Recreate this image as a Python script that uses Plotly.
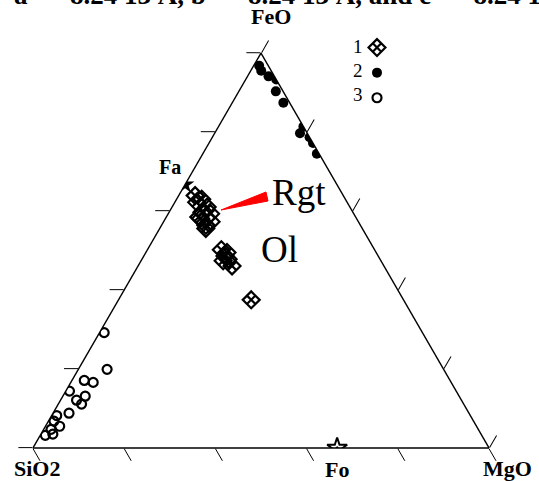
import plotly.graph_objects as go

# ---- data (molar fractions: FeO, SiO2, MgO) ----
# Series 1: diamonds (Fa-rich olivine / Rgt, Ol)
s1_feo = [0.639, 0.630, 0.622, 0.610, 0.597, 0.593, 0.585, 0.581, 0.573, 0.564, 0.556,
          0.502, 0.486, 0.478, 0.461, 0.474, 0.495, 0.375]
s1_sio2 = [0.325, 0.315, 0.330, 0.313, 0.331, 0.314, 0.344, 0.342, 0.323, 0.339, 0.343,
           0.336, 0.336, 0.333, 0.333, 0.346, 0.327, 0.334]
s1_mgo = [0.036, 0.055, 0.048, 0.077, 0.072, 0.093, 0.071, 0.077, 0.104, 0.097, 0.101,
          0.162, 0.178, 0.189, 0.206, 0.180, 0.178, 0.291]

# Series 2: filled circles (near FeO apex)
s2_feo = [0.968, 0.955, 0.941, 0.933, 0.903, 0.874, 0.814, 0.797, 0.787, 0.772, 0.745]
s2_sio2 = [0.020, 0.022, 0.013, 0.000, 0.016, 0.014, 0.000, 0.016, 0.000, 0.000, 0.005]
s2_mgo = [0.012, 0.023, 0.046, 0.067, 0.081, 0.112, 0.186, 0.187, 0.213, 0.228, 0.250]

# Series 3: open circles (near SiO2 corner)
s3_feo = [0.292, 0.199, 0.171, 0.166, 0.144, 0.131, 0.121, 0.111, 0.088, 0.082, 0.068,
          0.055, 0.047, 0.035, 0.032]
s3_sio2 = [0.698, 0.738, 0.802, 0.785, 0.848, 0.820, 0.844, 0.838, 0.877, 0.907, 0.920,
           0.914, 0.937, 0.939, 0.957]
s3_mgo = [0.010, 0.063, 0.027, 0.049, 0.008, 0.049, 0.035, 0.051, 0.035, 0.011, 0.012,
          0.031, 0.016, 0.026, 0.011]

# End members
fa_pt = [0.667, 0.333, 0.0]   # Fayalite  FeO, SiO2, MgO
fo_pt = [0.0, 0.333, 0.667]   # Forsterite

legend_labels = ["1", "2", "3"]

W, H = 539, 481
FONT = "Liberation Serif"
NB = "\u00a0"


def px(x):
    """window pixel x -> paper x"""
    return x / W


def py(y):
    """window pixel y -> paper y"""
    return (H - y) / H


fig = go.Figure()

fig.add_trace(go.Scatterternary(
    a=s1_feo, b=s1_sio2, c=s1_mgo, mode="markers", name=" ",
    marker=dict(symbol="diamond-x-open", size=13, color="black", line=dict(width=2.2, color="black")),
))
fig.add_trace(go.Scatterternary(
    a=s2_feo, b=s2_sio2, c=s2_mgo, mode="markers", name=" ",
    marker=dict(symbol="circle", size=10, color="black"),
))
fig.add_trace(go.Scatterternary(
    a=s3_feo, b=s3_sio2, c=s3_mgo, mode="markers", name=" ",
    marker=dict(symbol="circle-open", size=9, color="black", line=dict(width=2.2, color="black")),
))
fig.add_trace(go.Scatterternary(
    a=[fa_pt[0]], b=[fa_pt[1]], c=[fa_pt[2]], mode="markers", showlegend=False,
    marker=dict(symbol="star", size=14, color="black"),
))
fig.add_trace(go.Scatterternary(
    a=[fo_pt[0]], b=[fo_pt[1]], c=[fo_pt[2]], mode="markers", showlegend=False,
    marker=dict(symbol="star-open-dot", size=15, color="black", line=dict(width=2, color="black")),
))

axis = dict(showgrid=False, showticklabels=False, ticks="outside", ticklen=14,
            tickwidth=1.3, tickcolor="black", linecolor="black", linewidth=1.4,
            showline=True, dtick=0.2, tick0=0, min=0, title=dict(text=""))

fig.update_layout(
    width=W, height=H,
    margin=dict(l=0, r=0, t=0, b=0),
    paper_bgcolor="white",
    ternary=dict(
        domain=dict(x=[px(33), px(489)], y=[py(448), py(53)]),
        bgcolor="white", sum=1,
        aaxis=axis, baxis=axis, caxis=axis,
    ),
    showlegend=True,
    legend=dict(x=px(357), y=py(30), xanchor="left", yanchor="top",
                font=dict(family=FONT, size=17, color="black"),
                bgcolor="rgba(0,0,0,0)", itemwidth=30, tracegroupgap=0),
    font=dict(family=FONT, color="black"),
)

eq = NB + NB + "=" + NB + NB
title_txt = f"a{eq}8.24 13 Å, b{eq}8.24 13 Å, and c{eq}8.24 13 Å"

annos = [
    dict(text=title_txt, x=px(12), y=py(-5),
         xanchor="left", yanchor="middle", font=dict(size=27, family=FONT), bold=True),
    dict(text="<b>FeO</b>", x=px(271), y=py(17), font=dict(size=22)),
    dict(text="<b>SiO2</b>", x=px(37), y=py(468), font=dict(size=22)),
    dict(text="<b>MgO</b>", x=px(507), y=py(468), font=dict(size=22)),
    dict(text="<b>Fo</b>", x=px(337), y=py(469), font=dict(size=22)),
    dict(text="<b>Fa</b>", x=px(170), y=py(167), font=dict(size=20)),
    dict(text="Rgt", x=px(299), y=py(193), font=dict(size=37)),
    dict(text="Ol", x=px(279), y=py(249), font=dict(size=37)),
]
for i, lab in enumerate(legend_labels):
    annos.append(dict(text=lab, x=px(358), y=py(47 + 24 * i), font=dict(size=19)))

for a in annos:
    bold = a.pop("bold", False)
    if bold:
        a["text"] = "<b>" + a["text"] + "</b>"
    a.setdefault("xanchor", "center")
    a.setdefault("yanchor", "middle")
    a["font"].setdefault("family", FONT)
    a["font"]["color"] = "black"
    fig.add_annotation(xref="paper", yref="paper", showarrow=False, **a)

# red wedge pointing at the Rgt grains
fig.add_shape(type="path", xref="paper", yref="paper",
              path=f"M {px(221)},{py(210)} L {px(266)},{py(192)} L {px(268)},{py(201)} Z",
              fillcolor="red", line=dict(color="red", width=1))

# remove the browser's default 8px body margin so the page lines up with the window
fig.write_html("out.html", config={"displayModeBar": False},
               post_script="document.body.style.margin='0';")
